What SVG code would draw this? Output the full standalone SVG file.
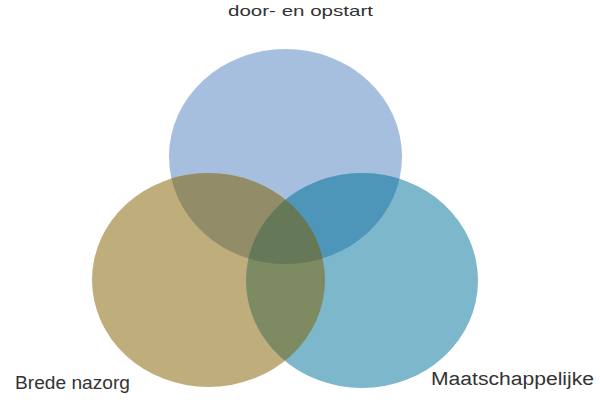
<svg xmlns="http://www.w3.org/2000/svg" width="600" height="400" viewBox="0 0 600 400">
  <style>
    .lbl { font-family: "Liberation Sans", Arial, sans-serif; fill: #333333; }
  </style>
  <defs>
    <clipPath id="cTop"><ellipse cx="285.5" cy="156.5" rx="116.5" ry="107.5"/></clipPath>
    <clipPath id="cLeft"><ellipse cx="208.5" cy="280" rx="116.5" ry="107"/></clipPath>
    <clipPath id="cRight"><ellipse cx="362" cy="280.5" rx="116" ry="107.5"/></clipPath>
  </defs>
  <rect width="600" height="400" fill="#ffffff"/>

  <g id="node-doorstart">
    <ellipse cx="285.5" cy="156.5" rx="116.5" ry="107.5" fill="#a7bfdf"/>
    <text class="lbl" x="228" y="16" font-size="15" textLength="145" lengthAdjust="spacingAndGlyphs">door- en opstart</text>
  </g>
  <g id="node-nazorg">
    <ellipse cx="208.5" cy="280" rx="116.5" ry="107" fill="#bfae7c"/>
    <text class="lbl" x="15" y="389" font-size="17.5" textLength="115" lengthAdjust="spacingAndGlyphs">Brede nazorg</text>
  </g>
  <g id="node-maatschappelijk">
    <ellipse cx="362" cy="280.5" rx="116" ry="107.5" fill="#7db7cb"/>
    <text class="lbl" x="431" y="385" font-size="18" textLength="163" lengthAdjust="spacingAndGlyphs">Maatschappelijke</text>
  </g>

  <g id="overlaps">
    <g clip-path="url(#cTop)">
      <ellipse cx="208.5" cy="280" rx="116.5" ry="107" fill="#938c69"/>
      <ellipse cx="362" cy="280.5" rx="116" ry="107.5" fill="#4d96ba"/>
    </g>
    <g clip-path="url(#cLeft)">
      <ellipse cx="362" cy="280.5" rx="116" ry="107.5" fill="#7e8a62"/>
      <g clip-path="url(#cTop)">
        <ellipse cx="362" cy="280.5" rx="116" ry="107.5" fill="#657858"/>
      </g>
    </g>
  </g>
</svg>
